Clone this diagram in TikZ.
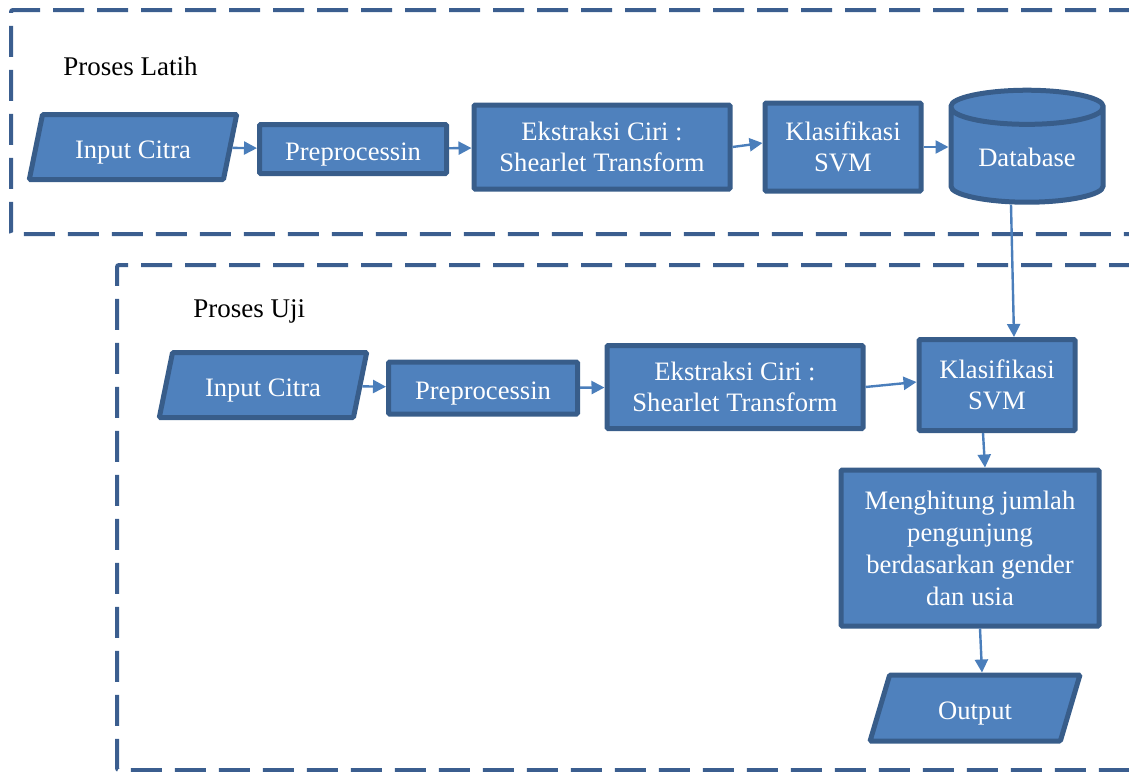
\documentclass[tikz,border=0pt]{standalone}
\usepackage{fontspec}
\setmainfont{Liberation Serif}
\usetikzlibrary{shapes.geometric, arrows.meta}
\definecolor{boxfill}{HTML}{4F81BD}
\definecolor{boxline}{HTML}{385D8A}
\definecolor{arrowcol}{HTML}{4A7EBB}
\definecolor{framecol}{HTML}{3B5E8F}

\begin{document}
\begin{tikzpicture}[x=0.5pt, y=-0.5pt,
        proc/.style={rectangle, draw=boxline, fill=boxfill, line width=2.5pt, text=white, align=center, inner sep=0pt, rounded corners=0.6pt, font=\fontsize{13.3}{15.5}\selectfont},
        oneline/.style={text height=14pt, text depth=3pt},
        io/.style={proc, oneline, trapezium, trapezium left angle=76, trapezium right angle=104, trapezium stretches=true, minimum width=104pt, minimum height=32.5pt},
        store/.style={proc, cylinder, shape border rotate=90, aspect=0.35, minimum width=76pt, minimum height=56pt, text height=13pt, text depth=3pt},
        flow/.style={draw=arrowcol, line width=1.2pt, -{Triangle[length=6.5pt,width=6.5pt]}},
        frame/.style={draw=framecol, line width=2pt, dash pattern=on 15.5pt off 6.5pt, rounded corners=1pt},
        title/.style={anchor=west, inner sep=0pt, font=\fontsize{13.5}{16}\selectfont},
    ]
    \useasboundingbox (0,0) rectangle (1129,771);

    % Frames
    \draw[frame] (1140,10) -- (11,10) -- (11,234) -- (1140,234);
    \draw[frame] (1140,265) -- (117,265) -- (117,770) -- (1140,770);
    \node[title] (latih) at (63,66) {Proses Latih};
    \node[title] (uji) at (193,311) {Proses Uji};

    % Proses Latih
    \node[io] (in1) at (133,147) {Input Citra};
    \node[proc, oneline, minimum width=93.5pt, minimum height=24.5pt] (pre1) at (353,149) {Preprocessin};
    \node[proc, minimum width=128pt, minimum height=42pt] (eks1) at (602,147) {Ekstraksi Ciri :\\Shearlet Transform};
    \node[proc, minimum width=78pt, minimum height=44pt] (kls1) at (843,147) {Klasifikasi\\SVM};
    \node[store] (db) at (1027,156) {Database};

    % Proses Uji
    \node[io] (in2) at (263,385) {Input Citra};
    \node[proc, oneline, minimum width=94.5pt, minimum height=26pt] (pre2) at (483,388) {Preprocessin};
    \node[proc, minimum width=128pt, minimum height=41.5pt] (eks2) at (735,387) {Ekstraksi Ciri :\\Shearlet Transform};
    \node[proc, minimum width=78pt, minimum height=45.5pt] (kls2) at (997,385) {Klasifikasi\\SVM};
    \node[proc, minimum width=129pt, minimum height=78pt, font=\fontsize{13.3}{16}\selectfont] (hitung) at (970,548) {Menghitung jumlah\\pengunjung\\berdasarkan gender\\dan usia};
    \node[io, minimum width=105pt, minimum height=33pt] (out) at (975,708) {Output};

    % Connectors
    \draw[flow] (in1) -- (pre1);
    \draw[flow] (pre1) -- (eks1);
    \draw[flow] (eks1.east) -- ([yshift=2pt]kls1.west);
    \draw[flow] (kls1.east) -- (kls1.east -| db.west);
    \draw[flow] ([xshift=-8pt]db.south) -- ([xshift=8.5pt]kls2.north);
    \draw[flow] (in2) -- (pre2);
    \draw[flow] (pre2) -- (eks2);
    \draw[flow] (eks2.east) -- ([yshift=1.5pt]kls2.west);
    \draw[flow] ([xshift=-7pt]kls2.south) -- ([xshift=7.5pt]hitung.north);
    \draw[flow] ([xshift=5pt]hitung.south) -- ([xshift=3.5pt]out.north);
\end{tikzpicture}
\end{document}
